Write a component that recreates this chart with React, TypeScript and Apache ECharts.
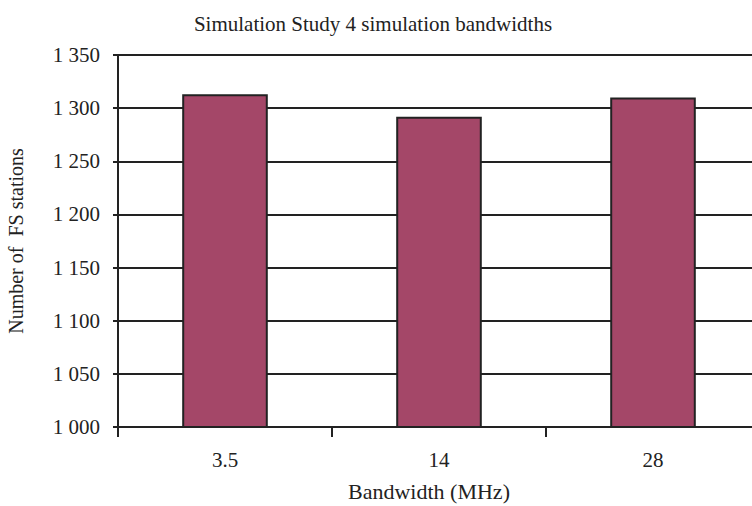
import React, { useEffect, useRef } from "react";
import * as echarts from "echarts";

const categories = ["3.5", "14", "28"];
const stationCounts = [1313, 1292, 1310];
const titleText = "Simulation Study 4 simulation bandwidths";
const xAxisName = "Bandwidth (MHz)";
const yAxisName = "Number of  FS stations";

const FONT = "'Liberation Serif', 'Times New Roman', serif";

export default function App() {
  const ref = useRef<HTMLDivElement>(null);
  useEffect(() => {
    document.body.style.margin = "0";
    const chart = echarts.init(ref.current!, null, { renderer: "svg" });
    chart.setOption({
      animation: false,
      backgroundColor: "#ffffff",
      title: {
        text: titleText,
        left: 368,
        top: 8,
        textAlign: "center",
        textStyle: { fontFamily: FONT, fontSize: 21, fontWeight: "normal", color: "#222" },
      },
      grid: { left: 118, right: -8, top: 55, bottom: 79, containLabel: false, outerBoundsMode: "none" },
      xAxis: {
        type: "category",
        data: categories,
        name: xAxisName,
        nameLocation: "middle",
        nameGap: 53,
        nameTextStyle: { fontFamily: FONT, fontSize: 22, color: "#222", padding: [0, 20, 0, 0] },
        axisLine: { lineStyle: { color: "#222", width: 2 } },
        axisTick: { show: true, length: 10, lineStyle: { color: "#222", width: 2 } },
        axisLabel: { fontFamily: FONT, fontSize: 21, color: "#222", margin: 22 },
      },
      yAxis: {
        type: "value",
        min: 1000,
        max: 1350,
        interval: 50,
        name: yAxisName,
        nameLocation: "middle",
        nameGap: 92,
        nameTextStyle: { fontFamily: FONT, fontSize: 20, color: "#222" },
        axisLine: { show: true, lineStyle: { color: "#222", width: 2 } },
        axisTick: { show: true, length: 5, lineStyle: { color: "#222", width: 2 } },
        axisLabel: {
          fontFamily: FONT,
          fontSize: 21,
          color: "#222",
          margin: 18,
          formatter: (v: number) => {
            const s = String(v);
            return s.length > 3 ? s.slice(0, s.length - 3) + " " + s.slice(-3) : s;
          },
        },
        splitLine: { show: true, lineStyle: { color: "#222", width: 2 } },
      },
      series: [
        {
          type: "bar",
          data: stationCounts,
          barWidth: "40%",
          itemStyle: { color: "#A44768", borderColor: "#222", borderWidth: 2 },
        },
      ],
    });
    return () => chart.dispose();
  }, []);
  return <div ref={ref} style={{ width: 752, height: 506 }} />;
}
